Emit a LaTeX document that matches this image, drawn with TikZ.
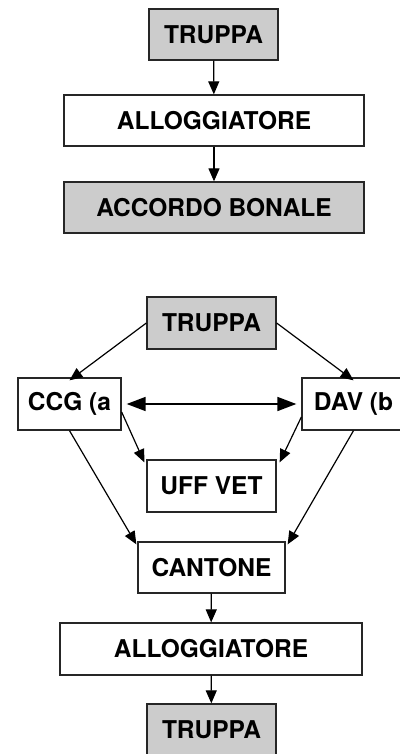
\documentclass[tikz,border=0pt]{standalone}
\usepackage{fontspec}
\setmainfont{TeX Gyre Heros}
\usetikzlibrary{arrows.meta}

\begin{document}
\begin{tikzpicture}[x=1pt,y=-1pt,
    plainbox/.style={draw=black!85,line width=1.3pt,fill=white,inner sep=0pt,
        font=\fontsize{24.5}{28}\selectfont\bfseries},
    greybox/.style={plainbox,fill=black!20},
    link/.style={line width=1.2pt,-{Triangle[length=13pt,width=11pt]}}]
    \useasboundingbox (0,0) rectangle (399,754);
    % first chain
    \node[greybox,minimum width=129pt,minimum height=51pt] (truppaA) at (213.5,34.5) {TRUPPA};
    \node[plainbox,minimum width=300pt,minimum height=51pt] (allogA) at (214,120.5) {ALLOGGIATORE};
    \node[greybox,minimum width=300pt,minimum height=51pt] (accordo) at (214,207.5) {ACCORDO BONALE};
    \draw[link] (truppaA) -- (allogA);
    \draw[link] (allogA) -- (accordo);
    % second chain
    \node[greybox,minimum width=129pt,minimum height=52pt] (truppaB) at (211.5,323) {TRUPPA};
    \node[plainbox,minimum width=103pt,minimum height=52pt] (ccg) at (69.5,404) {CCG (a};
    \node[plainbox,minimum width=103pt,minimum height=52pt] (dav) at (353.5,404) {DAV (b};
    \node[plainbox,minimum width=129pt,minimum height=52pt] (uff) at (211.5,486) {UFF VET};
    \node[plainbox,minimum width=147pt,minimum height=51pt] (cantone) at (211.5,567.5) {CANTONE};
    \node[plainbox,minimum width=302pt,minimum height=52pt] (allogB) at (211,649) {ALLOGGIATORE};
    \node[greybox,minimum width=129pt,minimum height=52pt] (truppaC) at (211.5,730) {TRUPPA};
    \draw[link] (truppaB.west) -- ([yshift=-3pt]ccg.north);
    \draw[link] (truppaB.east) -- ([yshift=-3pt]dav.north);
    \draw[line width=1.6pt,{Triangle[length=19pt,width=14pt]}-{Triangle[length=19pt,width=14pt]},
        shorten <=5pt,shorten >=5pt] (ccg.east) -- (dav.west);
    \draw[link] ([yshift=-8pt]ccg.east) -- ([shift={(-2pt,-3pt)}]uff.north west);
    \draw[link] ([yshift=-13pt]dav.west) -- ([shift={(3pt,-3pt)}]uff.north east);
    \draw[link] (ccg.south) -- ([shift={(-1pt,-3pt)}]cantone.north west);
    \draw[link] (dav.south) -- ([shift={(2pt,-3pt)}]cantone.north east);
    \draw[link] (cantone) -- (allogB);
    \draw[link] (allogB) -- (truppaC);
\end{tikzpicture}
\end{document}
